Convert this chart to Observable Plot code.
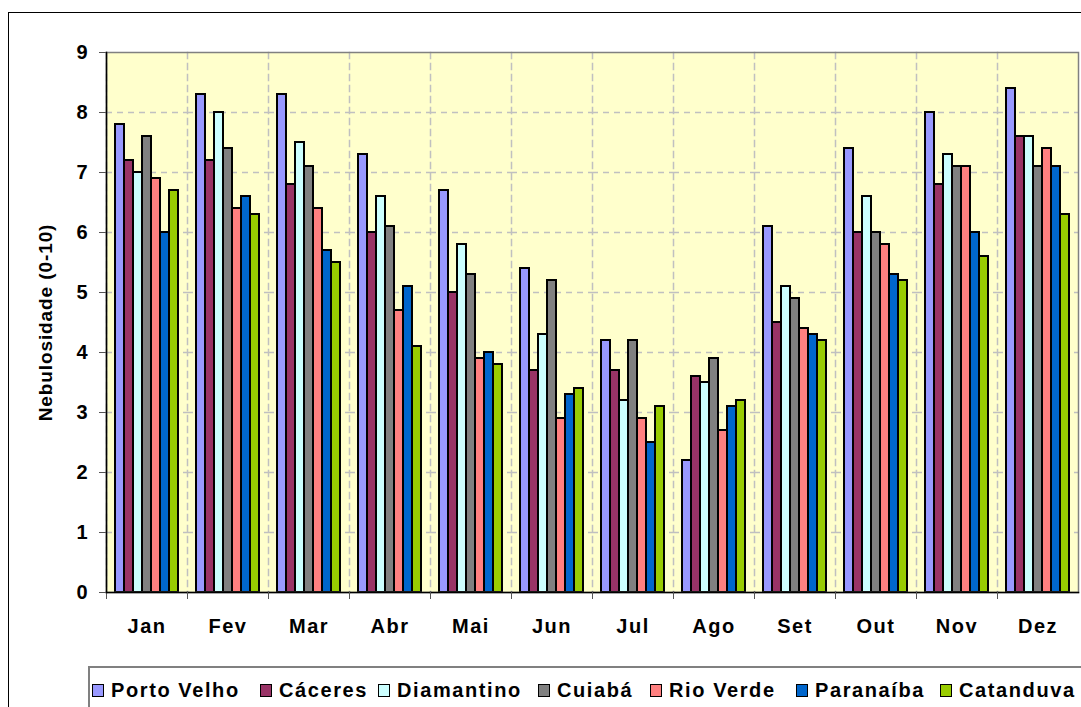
<!DOCTYPE html>
<html>
<head>
<meta charset="utf-8">
<script src="https://cdn.jsdelivr.net/npm/d3@7"></script>
<script src="https://cdn.jsdelivr.net/npm/@observablehq/plot@0.6"></script>
<style>
  html, body { margin: 0; padding: 0; background: white; overflow: hidden; width: 1081px; height: 707px; }
  #outer { position: absolute; left: 8px; top: 12px; width: 1200px; height: 800px; border-left: 1px solid black; border-top: 1px solid black; }
  #chart { position: absolute; left: 0; top: 0; }
  #legend { position: absolute; left: 88px; top: 666px; width: 1100px; height: 60px; border-top: 2px solid #808080; border-left: 2px solid #808080;
    font-family: Arial, "Liberation Sans", sans-serif; font-weight: bold; font-size: 20px; letter-spacing: 1.6px; color: black; }
  .item { position: absolute; top: 11px; white-space: nowrap; display: flex; align-items: center; }
  .sw { display: inline-block; width: 10px; height: 11px; border: 1.5px solid black; margin-right: 7px; }
</style>
</head>
<body>
<div id="outer"></div>
<div id="chart"></div>
<div id="legend"></div>
<script>
const months = ["Jan", "Fev", "Mar", "Abr", "Mai", "Jun", "Jul", "Ago", "Set", "Out", "Nov", "Dez"];
const series = ["Porto Velho", "Cáceres", "Diamantino", "Cuiabá", "Rio Verde", "Paranaíba", "Catanduva"];
const colors = ["#9999ff", "#993366", "#ccffff", "#808080", "#ff8080", "#0066cc", "#99cc00"];
const yTicks = [0, 1, 2, 3, 4, 5, 6, 7, 8, 9];

const portoVelho = [7.8, 8.3, 8.3, 7.3, 6.7, 5.4, 4.2, 2.2, 6.1, 7.4, 8.0, 8.4];
const caceres    = [7.2, 7.2, 6.8, 6.0, 5.0, 3.7, 3.7, 3.6, 4.5, 6.0, 6.8, 7.6];
const diamantino = [7.0, 8.0, 7.5, 6.6, 5.8, 4.3, 3.2, 3.5, 5.1, 6.6, 7.3, 7.6];
const cuiaba     = [7.6, 7.4, 7.1, 6.1, 5.3, 5.2, 4.2, 3.9, 4.9, 6.0, 7.1, 7.1];
const rioVerde   = [6.9, 6.4, 6.4, 4.7, 3.9, 2.9, 2.9, 2.7, 4.4, 5.8, 7.1, 7.4];
const paranaiba  = [6.0, 6.6, 5.7, 5.1, 4.0, 3.3, 2.5, 3.1, 4.3, 5.3, 6.0, 7.1];
const catanduva  = [6.7, 6.3, 5.5, 4.1, 3.8, 3.4, 3.1, 3.2, 4.2, 5.2, 5.6, 6.3];

const values = [portoVelho, caceres, diamantino, cuiaba, rioVerde, paranaiba, catanduva];
const data = months.flatMap((m, i) => series.map((s, j) => ({month: m, series: s, value: values[j][i]})));

const chart = Plot.plot({
  width: 1081,
  height: 660,
  marginLeft: 105,
  marginRight: 3,
  marginTop: 52,
  marginBottom: 68,
  style: {background: "transparent", fontFamily: "Arial, 'Liberation Sans', sans-serif", fontWeight: "bold", fontSize: "20px", color: "black"},
  fx: {domain: months, padding: 0, label: null},
  x: {domain: series, paddingOuter: 0.72, paddingInner: 0, axis: null},
  y: {domain: [0, 9]},
  color: {domain: series, range: colors},
  marks: [
    Plot.frame({fill: "#ffffcc", facet: "super"}),
    Plot.gridY(yTicks.slice(1, -1), {stroke: "#c0c0c0", strokeOpacity: 1, strokeWidth: 1.5, strokeDasharray: "6,5"}),
    Plot.frame({anchor: "left", stroke: "#c0c0c0", strokeWidth: 1.5, strokeDasharray: "6,5"}),
    Plot.barY(data, {fx: "month", x: "series", y: "value", fill: "series", stroke: "black", strokeWidth: 2}),
    Plot.frame({facet: "super", stroke: "#808080", strokeWidth: 1.5}),
    Plot.frame({anchor: "bottom", stroke: "black", strokeWidth: 1.5}),
    Plot.frame({anchor: "left", stroke: "#555", strokeWidth: 1, insetTop: 540, insetBottom: -6}),
    Plot.frame({anchor: "left", stroke: "black", strokeWidth: 1.5, facetAnchor: "left"}),
    Plot.axisY(yTicks, {tickSize: 7, tickPadding: 12, stroke: "#555", tickFormat: d => String(d), fontSize: 20, fontWeight: "bold",
      label: "Nebulosidade (0-10)", labelAnchor: "center", labelOffset: 68, labelArrow: "none"}),
    Plot.axisFx({anchor: "bottom", tickSize: 0, tickPadding: 26, fontSize: 20, fontWeight: "bold", label: null})
  ]
});
chart.querySelectorAll('g[aria-label="fx-axis tick label"] text').forEach(t => t.style.letterSpacing = "1.5px");
chart.querySelectorAll('g[aria-label="y-axis label"] text').forEach(t => { t.style.letterSpacing = "0.9px"; t.style.fontSize = "19px"; });
document.getElementById("chart").appendChild(chart);

const legend = document.getElementById("legend");
const lefts = [2, 170, 288, 448, 560, 706, 850];
series.forEach((s, i) => {
  const item = document.createElement("div");
  item.className = "item";
  item.style.left = lefts[i] + "px";
  const sw = document.createElement("span");
  sw.className = "sw";
  sw.style.background = colors[i];
  const t = document.createElement("span");
  t.textContent = s;
  item.appendChild(sw);
  item.appendChild(t);
  legend.appendChild(item);
});
</script>
</body>
</html>
